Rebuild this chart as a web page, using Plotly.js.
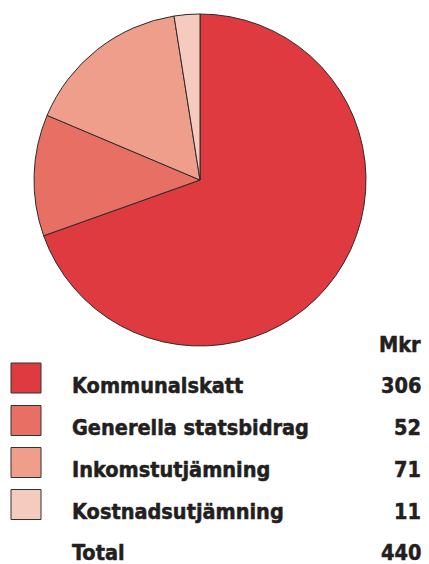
<!DOCTYPE html>
<html>
<head>
<meta charset="utf-8">
<script src="https://cdn.plot.ly/plotly-3.0.1.min.js"></script>
<style>
html,body{margin:0;padding:0;background:#fff}#chart{width:429px;height:564px}
.annotation-text{stroke:#231f20;stroke-width:0.5px;stroke-linejoin:round}
</style>
</head>
<body>
<div id="chart"></div>
<script>
const labels = ['Kommunalskatt', 'Generella statsbidrag', 'Inkomstutjämning', 'Kostnadsutjämning'];
const values = [306, 52, 71, 11];
const colors = ['#E03A41', '#E86F63', '#EE9E8A', '#F6CBBF'];
const unitLabel = 'Mkr';
const totalLabel = 'Total';
const totalValue = 440;

const W = 429, H = 564;
const px = x => x / W;
const py = y => 1 - y / H;
const FONT = '"DejaVu Sans Condensed", "Liberation Sans Narrow", "DejaVu Sans", sans-serif';
const fsize = 21.5;
const baselines = [393, 435.5, 477.5, 519.5, 560];
const unitBaseline = 352;
const off = 8;

const annotations = [];
const shapes = [];
function addText(text, x, baseline, anchor) {
  annotations.push({
    text: '<b>' + text + '</b>', xref: 'paper', yref: 'paper',
    x: px(x), y: py(baseline - off), xanchor: anchor, yanchor: 'middle',
    showarrow: false, font: {family: FONT, size: fsize, color: '#231f20'}
  });
}
addText(unitLabel, 423, unitBaseline, 'right');
labels.forEach((lab, i) => {
  addText(lab, 70, baselines[i], 'left');
  addText(String(values[i]), 423, baselines[i], 'right');
  shapes.push({
    type: 'rect', xref: 'paper', yref: 'paper',
    x0: px(11), x1: px(41), y0: py(baselines[i]), y1: py(baselines[i] - 30),
    fillcolor: colors[i], line: {color: '#333', width: 1}
  });
});
addText(totalLabel, 70, baselines[4], 'left');
addText(String(totalValue), 423, baselines[4], 'right');

const cx = 200, cy = 180, r = 166;
const data = [{
  type: 'pie', labels: labels, values: values, sort: false,
  direction: 'clockwise', rotation: 0,
  marker: {colors: colors, line: {color: '#2b2b2b', width: 1}},
  textinfo: 'none', hoverinfo: 'none',
  domain: {x: [px(cx - r), px(cx + r)], y: [py(cy + r), py(cy - r)]}
}];
const layout = {
  width: W, height: H, margin: {l: 0, r: 0, t: 0, b: 0},
  paper_bgcolor: '#fff', plot_bgcolor: '#fff', showlegend: false,
  annotations: annotations, shapes: shapes
};
Plotly.newPlot('chart', data, layout, {displayModeBar: false, staticPlot: true});
</script>
</body>
</html>
